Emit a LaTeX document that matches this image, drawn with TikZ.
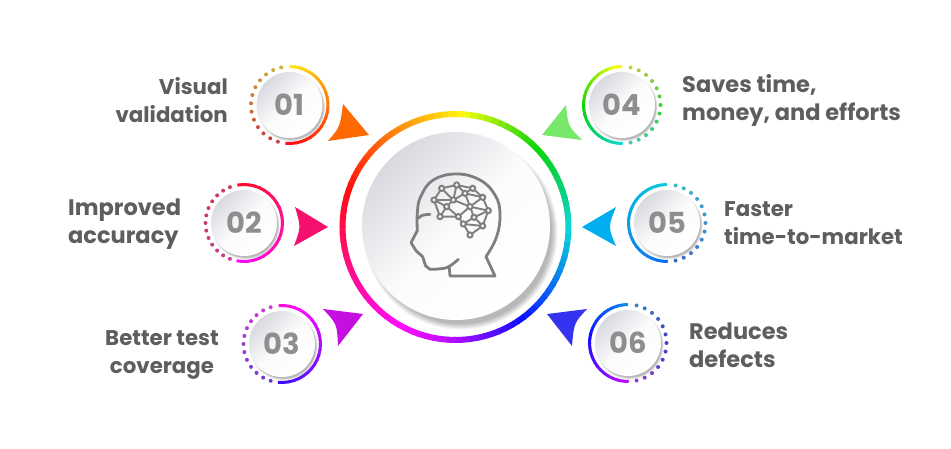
\documentclass[tikz,border=0pt]{standalone}
\usepackage{fontspec}
\setmainfont{Poppins}
\definecolor{txt}{HTML}{5E5E5E}
\definecolor{num}{HTML}{8E8E8E}
\definecolor{icon}{HTML}{7F7F7F}
\definecolor{discdark}{HTML}{D9DAE0}
\newcommand{\solidarc}[8]{% cx cy r lw a0 a1 h0 h1
  \foreach \i in {0,...,23}{
    \pgfmathsetmacro\aa{#5+(#6-#5)*\i/24}
    \pgfmathsetmacro\ab{#5+(#6-#5)*(\i+1.15)/24}
    \pgfmathsetmacro\hd{mod(#7+(#8-#7)*(\i+.5)/24+720,360)}
    \pgfmathsetmacro\vv{1-.18*max(0,sin((\hd-60)*1.0588))}
    \pgfmathsetmacro\hh{\hd/360}
    \definecolor{segc}{hsb}{\hh,.95,\vv}
    \draw[segc,line width=#4] ({#1+#3*cos(\aa)},{#2-#3*sin(\aa)}) -- ({#1+#3*cos(\ab)},{#2-#3*sin(\ab)});
  }}
\newcommand{\dotarc}[6]{% cx cy a0 a1 h0 h1
  \foreach \i in {1,...,13}{
    \pgfmathsetmacro\aa{#3+(#4-#3)*\i/14}
    \pgfmathsetmacro\hh{mod(#5+(#6-#5)*\i/14+720,360)/360}
    \definecolor{segc}{hsb}{\hh,.7,.8}
    \fill[segc] ({#1+38.5*cos(\aa)},{#2-38.5*sin(\aa)}) circle (2);
  }}
\newcommand{\softdisc}[3]{% cx cy r
  \foreach \k in {0,...,5}{
    \fill[black,opacity=.05] ({#1+#3*.05},{#2+#3*.07}) circle ({#3*1.03-\k*#3*.012});
  }
  \shade[top color=discdark,bottom color=white,middle color=white!90!discdark,shading angle=45] (#1,#2) circle (#3);
}
\tikzset{
  lbl/.style={font=\fontsize{22.5}{28}\selectfont\bfseries,text=txt,inner sep=0pt},
  lblnarrow/.style={font=\fontsize{21.3}{28}\selectfont\bfseries,text=txt,inner sep=0pt},
  numlbl/.style={font=\fontsize{29}{30}\selectfont\bfseries,text=num,inner sep=0pt},
  iconline/.style={draw=icon,line width=2.8pt,line join=round,line cap=round},
  brainline/.style={draw=icon,line width=1.9pt},
}
\begin{document}
\begin{tikzpicture}[x=1pt,y=-1pt]
\useasboundingbox[fill=white] (0,0) rectangle (951,449);
% main ring and disc
\solidarc{455.5}{227}{113}{6pt}{90}{0}{55}{180}
\solidarc{455.5}{227}{113}{6pt}{0}{-90}{180}{280}
\solidarc{455.5}{227}{113}{6pt}{-90}{-180}{280}{345}
\solidarc{455.5}{227}{113}{6pt}{-180}{-270}{345}{415}
\softdisc{456}{226}{94}
% small rings
\softdisc{289.5}{105}{33}
\solidarc{289.5}{105}{38.5}{3pt}{90}{-95}{55}{-5}
\dotarc{289.5}{105}{-95}{-270}{350}{415}
\softdisc{244}{223}{33}
\solidarc{244}{223}{38.5}{3pt}{100}{-100}{355}{300}
\dotarc{244}{223}{-100}{-260}{320}{355}
\softdisc{282}{344}{33}
\solidarc{282}{344}{38.5}{3pt}{95}{-95}{310}{250}
\dotarc{282}{344}{-95}{-265}{255}{305}
\softdisc{622}{105}{33}
\solidarc{622}{105}{38.5}{3pt}{90}{270}{55}{180}
\dotarc{622}{105}{270}{450}{180}{55}
\softdisc{667}{223}{33}
\solidarc{667}{223}{38.5}{3pt}{90}{270}{185}{215}
\dotarc{667}{223}{-90}{90}{225}{185}
\softdisc{628}{343}{33}
\solidarc{628}{343}{38.5}{3pt}{90}{270}{205}{285}
\dotarc{628}{343}{270}{450}{280}{205}
% arrowheads
\definecolor{a1}{HTML}{FF6A00}\definecolor{a2}{HTML}{F50F6E}\definecolor{a3}{HTML}{C50FE0}
\definecolor{a4}{HTML}{77E86A}\definecolor{a5}{HTML}{00AEEF}\definecolor{a6}{HTML}{3333F0}
\fill[a1] (343,104) -- (369,135) -- (328,141) .. controls (340,127) .. (343,104) -- cycle;
\fill[a2] (295,207) -- (328,227) -- (294,246) .. controls (301,227) .. (295,207) -- cycle;
\fill[a3] (323,309) -- (363,314) -- (338,346) .. controls (337,324) .. (323,309) -- cycle;
\fill[a4] (566,105) .. controls (568,126) .. (582,140) -- (542,135) -- cycle;
\fill[a5] (616,207) -- (582,227) -- (616,246) .. controls (608,227) .. (616,207) -- cycle;
\fill[a6] (547,314) -- (587,309) .. controls (574,323) .. (572,346) -- cycle;
% numbers
\node[numlbl] (n1) at (289.5,105) {01};
\node[numlbl] (n2) at (244,223) {02};
\node[numlbl] (n3) at (282,344) {03};
\node[numlbl] (n4) at (622,105) {04};
\node[numlbl] (n5) at (667,223) {05};
\node[numlbl] (n6) at (628,343) {06};
% labels
\node[lblnarrow,align=right,anchor=east] (t1) at (228,100.5) {Visual\\validation};
\node[lbl,align=left,anchor=west] (t2) at (68,224.5) {Improved\\accuracy};
\node[lblnarrow,align=center,anchor=center] (t3) at (162,354.5) {Better test\\coverage};
\node[lbl,align=left,anchor=west] (t4) at (682,100.5) {Saves time,\\money, and efforts};
\node[lblnarrow,align=left,anchor=west] (t5) at (724,223.5) {Faster\\time-to-market};
\node[lbl,align=left,anchor=west] (t6) at (689,345) {Reduces\\defects};
% head icon
\begin{scope}[shift={(330,100)},x=.3333pt,y=-.3333pt]
\draw[iconline] plot[smooth,tension=.6] coordinates {(385,478) (350,503) (300,508)};
\draw[iconline] (300,508) -- (287,498) -- (278,470) -- (258,452) -- (243,428) -- (262,392);
\draw[iconline] plot[smooth,tension=.7] coordinates {(262,392) (262,340) (272,290) (310,240) (380,222) (450,240) (495,285) (510,340) (500,410) (468,470)};
\draw[iconline] (468,470) -- (495,528) -- (360,528) -- (358,503);
\draw[iconline] (265,355) .. controls (275,345) .. (300,343);
\draw[brainline] (335,265)--(380,255)--(428,265)--(458,292)--(475,332)--(458,378)--(420,405)--(400,372)--(385,350)--(330,350)--(312,300)--(335,265)--(370,300)--(380,255)--(405,280)--(428,265);
\draw[brainline] (312,300)--(370,300)--(405,280)--(458,292)--(420,320)--(475,332)--(432,352)--(458,378)--(400,372)--(432,352)--(420,320)--(385,350)--(350,320)--(330,350);
\draw[brainline] (350,320)--(370,300)--(420,320)--(405,280);
\draw[brainline] (312,300)--(350,320);
\foreach \p/\q in {335/265,380/255,428/265,458/292,475/332,458/378,420/405,312/300,330/350,385/350,370/300,420/320,405/280,350/320,432/352,400/372}{
  \fill[icon] (\p,\q) circle (11);
  \fill[white!92!icon] (\p,\q) circle (5);
}
\end{scope}
\end{tikzpicture}
\end{document}
